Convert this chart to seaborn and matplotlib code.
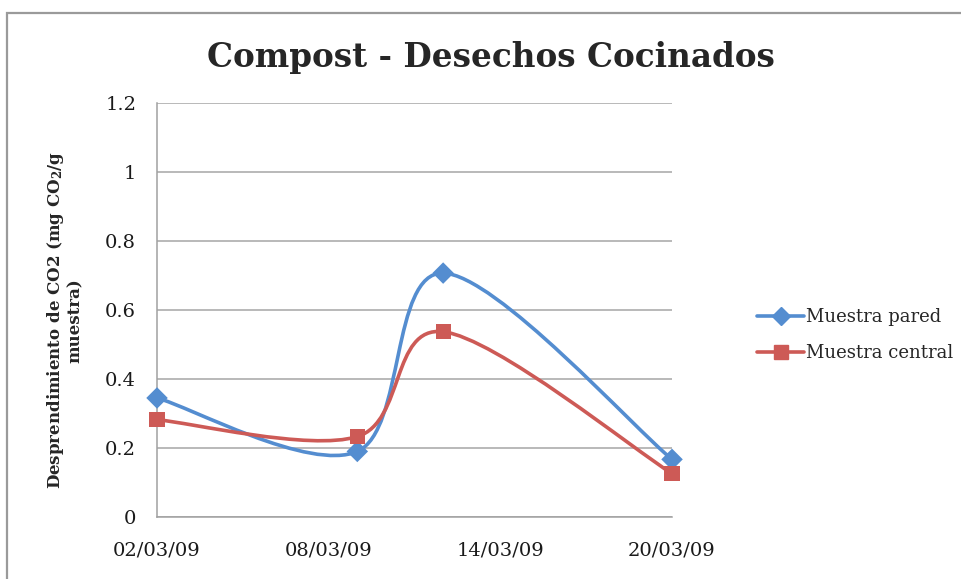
import numpy as np
import pandas as pd
import matplotlib
matplotlib.use("Agg")
import matplotlib.pyplot as plt
import matplotlib.dates as mdates
from matplotlib.path import Path
from matplotlib.patches import PathPatch, Rectangle
from matplotlib.lines import Line2D
import seaborn as sns

# data
fechas = ["2009-03-02", "2009-03-09", "2009-03-12", "2009-03-20"]
muestra_pared = [0.345, 0.19, 0.707, 0.167]
muestra_central = [0.282, 0.233, 0.537, 0.126]
series = ["Muestra pared", "Muestra central"]
colores = {"Muestra pared": "#548DD0", "Muestra central": "#CD5A56"}
marcadores = {"Muestra pared": "D", "Muestra central": "s"}
yticks = [0, 0.2, 0.4, 0.6, 0.8, 1, 1.2]
xticks = ["2009-03-02", "2009-03-08", "2009-03-14", "2009-03-20"]

df = pd.DataFrame({
    "fecha": pd.to_datetime(fechas * 2),
    "valor": muestra_pared + muestra_central,
    "serie": [series[0]] * len(fechas) + [series[1]] * len(fechas),
})

sns.set_style("white")
plt.rcParams["font.family"] = ["DejaVu Serif"]
plt.rcParams["mathtext.fontset"] = "dejavuserif"


def smooth_path(x, y):
    # Excel-style smoothed line: cubic Bezier, Catmull-Rom style tangents
    x = np.asarray(x, float)
    y = np.asarray(y, float)
    pts = np.column_stack([x, y])
    ext = np.vstack([pts[0], pts, pts[-1]])
    verts = [pts[0]]
    codes = [Path.MOVETO]
    for i in range(len(pts) - 1):
        p0, p1, p2, p3 = ext[i], ext[i + 1], ext[i + 2], ext[i + 3]
        c1 = p1 + (p2 - p0) / 6
        c2 = p2 - (p3 - p1) / 6
        verts += [c1, c2, p2]
        codes += [Path.CURVE4] * 3
    return Path(verts, codes)


fig = plt.figure(figsize=(9.61, 5.79), dpi=100)
ax = fig.add_axes([0.1634, 0.1071, 0.5359, 0.715])

# chart area border
fig.add_artist(Rectangle((0.0075, -0.01), 1.2, 0.9875, transform=fig.transFigure,
                         fill=False, ec="#9a9a9a", lw=1.6))

xnum = mdates.date2num(pd.to_datetime(fechas))
for nombre, vals in zip(series, [muestra_pared, muestra_central]):
    ax.add_patch(PathPatch(smooth_path(xnum, vals), fill=False,
                           ec=colores[nombre], lw=2.6, zorder=3, clip_on=False))

sns.scatterplot(data=df, x="fecha", y="valor", hue="serie", style="serie",
                palette=colores, markers=marcadores, s=120, edgecolor="none",
                legend=False, ax=ax, zorder=4, clip_on=False)

ax.set_xlim(pd.Timestamp("2009-03-02"), pd.Timestamp("2009-03-20"))
ax.set_ylim(0, 1.2)
ax.set_yticks(yticks)
ax.set_yticklabels(["0", "0.2", "0.4", "0.6", "0.8", "1", "1.2"])
ax.set_xticks(pd.to_datetime(xticks))
ax.xaxis.set_major_formatter(mdates.DateFormatter("%d/%m/%y"))
ax.grid(axis="y", color="#a6a6a6", lw=1.1)
ax.grid(axis="x", visible=False)
for s in ["top", "right"]:
    ax.spines[s].set_visible(False)
for s in ["left", "bottom"]:
    ax.spines[s].set_color("#a0a0a0")
    ax.spines[s].set_linewidth(1.1)
ax.tick_params(axis="both", which="major", length=6, width=1.1,
               color="#a0a0a0", labelsize=14, labelcolor="#1a1a1a",
               direction="out", pad=12)
ax.tick_params(axis="y", pad=9)
ax.set_xlabel("")
ax.set_ylabel("Desprendimiento de CO2 (mg CO$_{\\mathbf{2}}$/g\nmuestra)",
              fontsize=12, fontweight="bold", linespacing=1.05)
ax.yaxis.set_label_coords(-0.143, 0.475)

fig.suptitle("Compost - Desechos Cocinados", x=0.511, y=0.93,
             fontsize=23.5, fontweight="bold")

handles = [Line2D([], [], color=colores[n], lw=2.6, marker=marcadores[n],
                  markersize=9 if n == series[0] else 10) for n in series]
fig.legend(handles, series, loc="center left", bbox_to_anchor=(0.771, 0.421),
           frameon=False, fontsize=13, handlelength=2.6, handletextpad=0.1,
           labelspacing=1.0)

fig.savefig("out.png", dpi=100)
